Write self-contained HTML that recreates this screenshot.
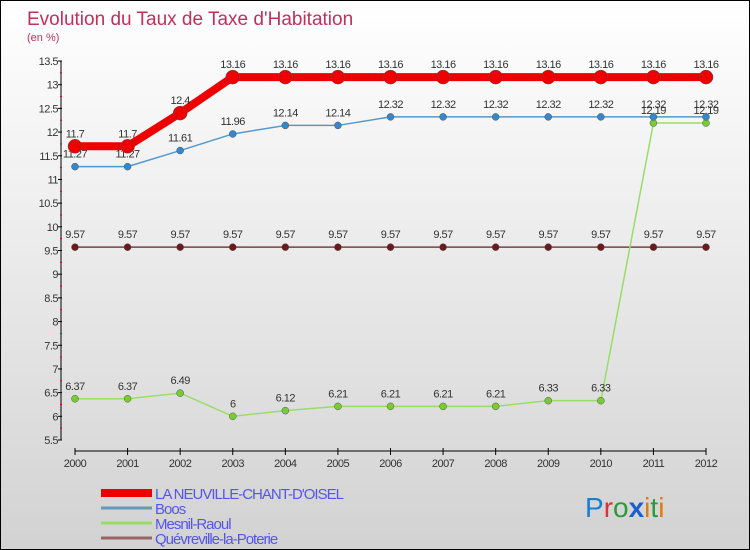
<!DOCTYPE html>
<html><head><meta charset="utf-8"><style>
body{margin:0;background:#fff}
#c{position:relative;width:748px;height:548px;border:1px solid #000;background:linear-gradient(#fff 0%,#f2f2f2 30%,#d2d2d2 100%);font-family:"Liberation Sans",sans-serif;overflow:hidden}
svg text{font-family:"Liberation Sans",sans-serif}
</style></head><body>
<div id="c">
<svg id="s" width="748" height="548">
<text x="26" y="24" font-size="19" fill="#c0305a">Evolution du Taux de Taxe d'Habitation</text>
<text x="26" y="40" font-size="11" fill="#c0305a">(en %)</text>
<g id="g"></g>
<text x="584" y="516" font-size="28"><tspan fill="#1a7fd0">P</tspan><tspan fill="#e03030">r</tspan><tspan fill="#2a9a3a">o</tspan><tspan fill="#1a5fd0" font-weight="bold">x</tspan><tspan fill="#e07a10">i</tspan><tspan fill="#2a9a3a">t</tspan><tspan fill="#e07a10">i</tspan></text>
</svg></div>
<script>
const years=[2000,2001,2002,2003,2004,2005,2006,2007,2008,2009,2010,2011,2012];
const neuville=[11.7,11.7,12.4,13.16,13.16,13.16,13.16,13.16,13.16,13.16,13.16,13.16,13.16];
const boos=[11.27,11.27,11.61,11.96,12.14,12.14,12.32,12.32,12.32,12.32,12.32,12.32,12.32];
const mesnil=[6.37,6.37,6.49,6,6.12,6.21,6.21,6.21,6.21,6.33,6.33,12.19,12.19];
const quev=[9.57,9.57,9.57,9.57,9.57,9.57,9.57,9.57,9.57,9.57,9.57,9.57,9.57];
const yTicks=[5.5,6,6.5,7,7.5,8,8.5,9,9.5,10,10.5,11,11.5,12,12.5,13,13.5];
const seriesNames=["LA NEUVILLE-CHANT-D'OISEL","Boos","Mesnil-Raoul","Quévreville-la-Poterie"];
const X=i=>74+i*(705-74)/(years.length-1);
const Y=v=>439-(v-5.5)*(379/8);
const NS="http://www.w3.org/2000/svg",g=document.getElementById('g');
function el(t,a,txt){const e=document.createElementNS(NS,t);for(const k in a)e.setAttribute(k,a[k]);if(txt!=null)e.textContent=txt;g.appendChild(e);return e;}
let e=el('line',{x1:60,y1:Y(13.5),x2:60,y2:Y(5.5),stroke:'#000'});

yTicks.forEach((t,k)=>{
 let l=el('line',{x1:57,x2:61,y1:Y(t),y2:Y(t),stroke:'#000'});
 
 if(k<yTicks.length-1){
 let m=el('line',{x1:59,x2:61,y1:Y(t+0.25),y2:Y(t+0.25),stroke:'#e00'});
 
 }
 let tx=el('text',{x:57,y:Y(t)+4,'font-size':11,fill:'#333','text-anchor':'end','letter-spacing':'-0.5'},String(t));
 
});
e=el('line',{x1:X(0),x2:X(12),y1:450,y2:450,stroke:'#000'});

years.forEach((y,i)=>{
 let l=el('line',{x1:X(i),x2:X(i),y1:447,y2:454,stroke:'#000'});
 
 let tx=el('text',{x:X(i),y:466,'font-size':11,fill:'#333','text-anchor':'middle','letter-spacing':'-0.5'},String(y));
 
});
function series(vals,color,w,r,name,fill){
 let p=el('polyline',{points:vals.map((v,i)=>X(i)+','+Y(v)).join(' '),fill:'none',stroke:color,'stroke-width':w,'stroke-linejoin':'round'});
 
 vals.forEach((v,i)=>{
  let c=el('circle',{cx:X(i),cy:Y(v),r:r,fill:fill,stroke:'#555','stroke-width':0.5});
  
  let t=el('text',{x:X(i),y:Y(v)-9,'font-size':11,fill:'#333','text-anchor':'middle','letter-spacing':'-0.5'},String(v));
  
 });
}
series(quev,'#7a4040',1.5,3.5,'quevreville','#6a1a1a');
series(mesnil,'#99dd66',1.5,3.5,'mesnil-raoul','#77cc33');
series(boos,'#5599cc',1.5,3.5,'boos','#3388cc');
series(neuville,'#ee0000',8,7,'neuville','#ee0000');
const legColors=['#ee0000','#6699bb','#99dd66','#996666'],legW=[8,3,3,3];
seriesNames.forEach((n,i)=>{
 const y=495+i*15;
 let l=el('line',{x1:100,x2:151,y1:y-3,y2:y-3,stroke:legColors[i],'stroke-width':legW[i]});
 
 let t=el('text',{x:154,y:y+3,'font-size':15,fill:'#5555ee','letter-spacing':'-1'},n);
 
});
</script>
</body></html>
